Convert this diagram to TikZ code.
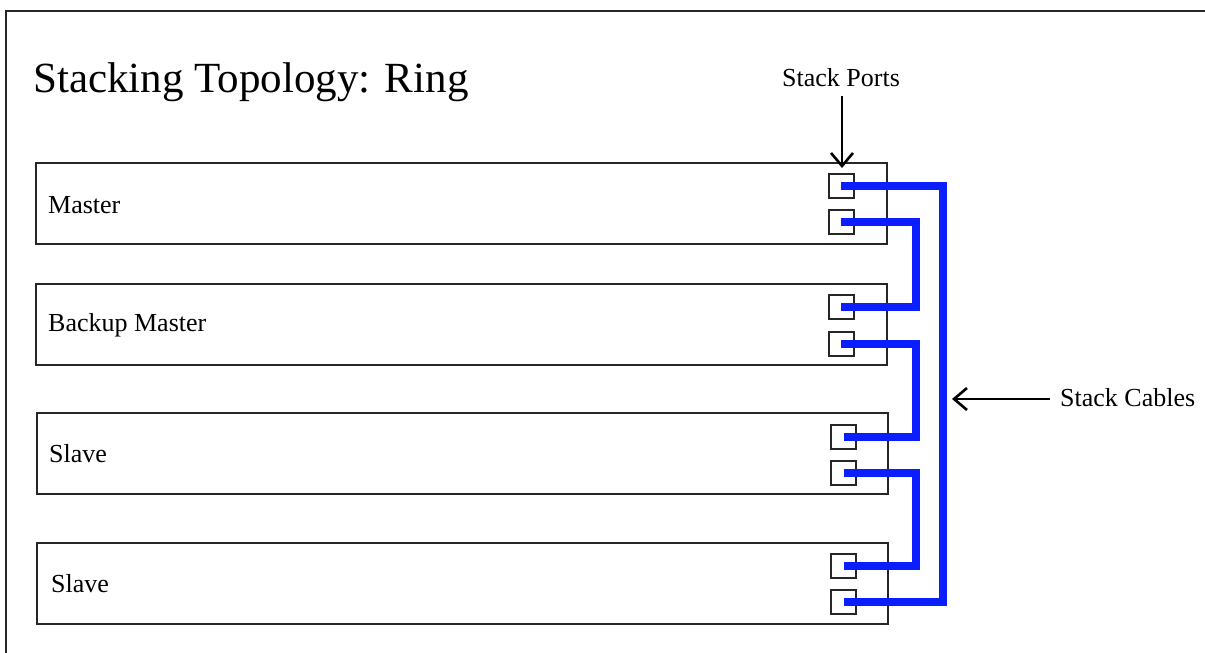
\documentclass[tikz,border=0pt]{standalone}
\usepackage{fontspec}
\setmainfont{Liberation Serif}
\usetikzlibrary{arrows.meta}
\begin{document}
\begin{tikzpicture}[x=1pt,y=-1pt,
  switchbox/.style={draw=black!85,line width=2pt,rectangle,inner sep=0pt,minimum width=851pt,minimum height=81pt},
  port/.style={draw=black!85,line width=2pt,rectangle,inner sep=0pt,minimum width=25pt,minimum height=24pt},
  lbl/.style={font=\fontsize{26}{30}\selectfont,inner sep=0pt,anchor=base west},
  cable/.style={draw={rgb,255:red,10;green,30;blue,255},line width=8pt,line join=miter},
  pointer/.style={line width=2.8pt,-{Straight Barb[length=13pt,width=22pt,line width=2.6pt]}}]
\useasboundingbox (0,0) rectangle (1205,653);
% outer frame (top and left edges visible)
\draw[line width=2pt,black!85] (6,653) -- (6,11) -- (1205,11);
% title
\node[lbl,font=\fontsize{43}{50}\selectfont] (title) at (33,92) {Stacking Topology: Ring};
% switches
\node[switchbox] (b1) at (461.5,203.5) {};
\node[switchbox] (b2) at (461.5,324.5) {};
\node[switchbox] (b3) at (462.5,453.5) {};
\node[switchbox] (b4) at (462.5,583.5) {};
\node[lbl] (l1) at (48,213) {Master};
\node[lbl] (l2) at (48,331) {Backup Master};
\node[lbl] (l3) at (49,462) {Slave};
\node[lbl] (l4) at (51,592) {Slave};
% ports
\node[port] (p11) at (841,185.5) {};
\node[port] (p12) at (841,222) {};
\node[port] (p21) at (841,306.5) {};
\node[port] (p22) at (841,343.5) {};
\node[port] (p31) at (843.5,436.5) {};
\node[port] (p32) at (843.5,472.5) {};
\node[port] (p41) at (843.5,565.5) {};
\node[port] (p42) at (843.5,602) {};
% cable x positions
\coordinate (xo) at (943,0);
\coordinate (xi) at (916,0);
% cables
\draw[cable] (p11.center) -- (p11.center -| xo) -- (p42.center -| xo) -- (p42.center);
\draw[cable] (p12.center) -- (p12.center -| xi) -- (p21.center -| xi) -- (p21.center);
\draw[cable] (p22.center) -- (p22.center -| xi) -- (p31.center -| xi) -- (p31.center);
\draw[cable] (p32.center) -- (p32.center -| xi) -- (p41.center -| xi) -- (p41.center);
% labels with pointers
\node[lbl] (sp) at (782,86) {Stack Ports};
\coordinate (spstart) at (842,96);
\coordinate (sptip) at (842,168);
\draw[pointer] (spstart) -- (sptip);
\node[lbl] (sc) at (1060,406) {Stack Cables};
\coordinate (sctip) at (952,399);
\draw[pointer] (sc.west |- sctip) ++(-10,0) -- (sctip);
\end{tikzpicture}
\end{document}
